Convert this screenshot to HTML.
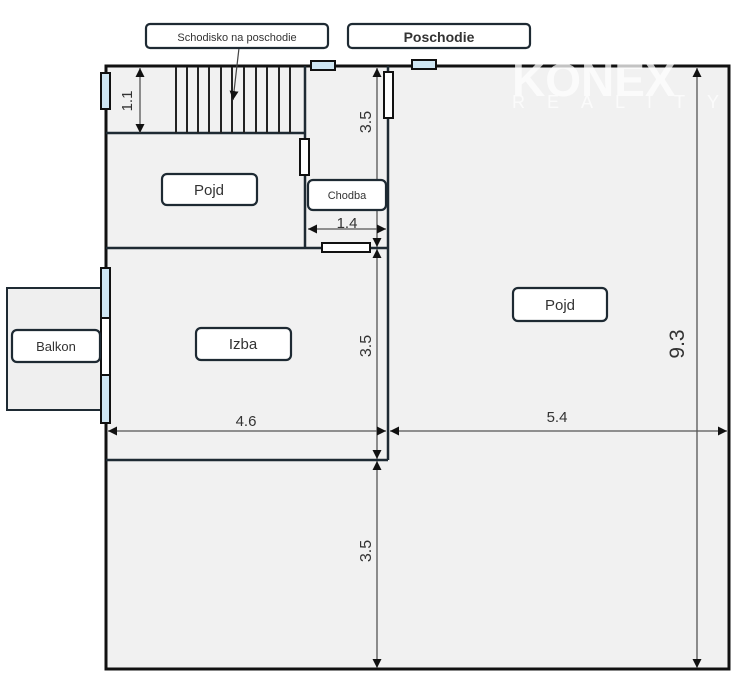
<!DOCTYPE html>
<html><head><meta charset="utf-8"><style>
html,body{margin:0;padding:0;background:#fff;width:744px;height:691px;overflow:hidden}
svg{display:block}
text{font-family:"Liberation Sans",sans-serif;fill:#333}
</style></head><body>
<svg width="744" height="691" viewBox="0 0 744 691" xmlns="http://www.w3.org/2000/svg">
<defs>
<marker id="a" viewBox="0 0 10 10" refX="10" refY="5" markerWidth="9" markerHeight="9" orient="auto-start-reverse" markerUnits="userSpaceOnUse"><path d="M0,0L10,5L0,10z" fill="#111"/></marker>
</defs>
<rect x="7" y="288" width="99" height="122" fill="#efefef" stroke="#1e2a33" stroke-width="2"/>
<rect x="106" y="66" width="623" height="603" fill="#f1f1f1" stroke="#111" stroke-width="3"/>
<g stroke="#1e2a33" stroke-width="2.5" fill="none">
<line x1="388" y1="66" x2="388" y2="460"/>
<line x1="106" y1="248" x2="388" y2="248"/>
<line x1="106" y1="460" x2="388" y2="460"/>
<line x1="106" y1="133" x2="305" y2="133"/>
<line x1="305" y1="66" x2="305" y2="248"/>
</g>
<g stroke="#222" stroke-width="2">
<line x1="176" y1="67" x2="176" y2="133"/><line x1="187" y1="67" x2="187" y2="133"/><line x1="198" y1="67" x2="198" y2="133"/><line x1="209" y1="67" x2="209" y2="133"/><line x1="221" y1="67" x2="221" y2="133"/><line x1="232" y1="67" x2="232" y2="133"/><line x1="244" y1="67" x2="244" y2="133"/><line x1="256" y1="67" x2="256" y2="133"/><line x1="267" y1="67" x2="267" y2="133"/><line x1="279" y1="67" x2="279" y2="133"/><line x1="290" y1="67" x2="290" y2="133"/>
</g>
<line x1="239" y1="48" x2="233" y2="100" stroke="#444" stroke-width="1.2" marker-end="url(#a)"/>
<g stroke="#555" stroke-width="1.3" marker-start="url(#a)" marker-end="url(#a)">
<line x1="140" y1="68" x2="140" y2="133"/>
<line x1="377" y1="68" x2="377" y2="247"/>
<line x1="377" y1="249" x2="377" y2="459"/>
<line x1="377" y1="461" x2="377" y2="668"/>
<line x1="697" y1="68" x2="697" y2="668"/>
<line x1="108" y1="431" x2="386" y2="431"/>
<line x1="390" y1="431" x2="727" y2="431"/>
<line x1="308" y1="229" x2="386" y2="229"/>
</g>
<g stroke="#111" stroke-width="2">
<rect x="311" y="61" width="24" height="9" fill="#cfe6f3"/>
<rect x="412" y="60" width="24" height="9" fill="#cfe6f3"/>
<rect x="101" y="73" width="9" height="36" fill="#cfe6f3"/>
<rect x="101" y="268" width="9" height="50" fill="#cfe6f3"/>
<rect x="101" y="318" width="9" height="57" fill="#fff"/>
<rect x="101" y="375" width="9" height="48" fill="#cfe6f3"/>
<rect x="384" y="72" width="9" height="46" fill="#fff"/>
<rect x="300" y="139" width="9" height="36" fill="#fff"/>
<rect x="322" y="243" width="48" height="9" fill="#fff"/>
</g>
<g fill="#fff" stroke="#1e2a33" stroke-width="2.2">
<rect x="146" y="24" width="182" height="24" rx="4"/>
<rect x="348" y="24" width="182" height="24" rx="4"/>
<rect x="162" y="174" width="95" height="31" rx="5"/>
<rect x="308" y="180" width="78" height="30" rx="5"/>
<rect x="513" y="288" width="94" height="33" rx="5"/>
<rect x="196" y="328" width="95" height="32" rx="5"/>
<rect x="12" y="330" width="88" height="32" rx="5"/>
</g>
<g text-anchor="middle">
<text x="237" y="41" font-size="11">Schodisko na poschodie</text>
<text x="439" y="42" font-size="14" font-weight="bold" fill="#222">Poschodie</text>
<text x="209" y="195" font-size="15">Pojd</text>
<text x="347" y="199" font-size="11">Chodba</text>
<text x="560" y="310" font-size="15">Pojd</text>
<text x="243" y="349" font-size="15">Izba</text>
<text x="56" y="351" font-size="13">Balkon</text>
<text x="246" y="426" font-size="15">4.6</text>
<text x="557" y="422" font-size="15">5.4</text>
<text x="347" y="228" font-size="15">1.4</text>
<text transform="translate(371,122) rotate(-90)" font-size="16">3.5</text>
<text transform="translate(371,346) rotate(-90)" font-size="16">3.5</text>
<text transform="translate(371,551) rotate(-90)" font-size="16">3.5</text>
<text transform="translate(132,101) rotate(-90)" font-size="15">1.1</text>
<text transform="translate(684,344) rotate(-90)" font-size="21">9.3</text>
</g>
<g opacity="0.75">
<text x="512" y="96" font-size="46" font-weight="bold" style="fill:#fff">KONEX</text>
<text x="512" y="108" font-size="18" letter-spacing="22" style="fill:#fff">REALITY</text>
</g>
</svg>
</body></html>
